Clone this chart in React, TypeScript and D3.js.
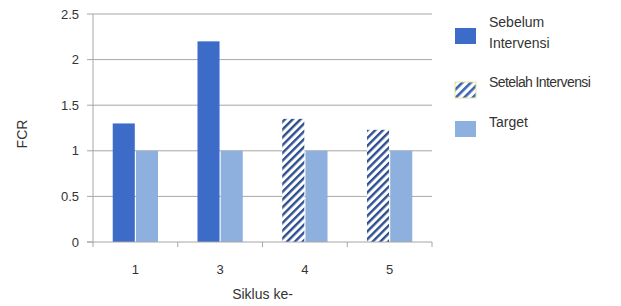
import * as d3 from 'd3';

const categories = ['1', '3', '4', '5'];
const sebelum: (number | null)[] = [1.3, 2.2, null, null];
const setelah: (number | null)[] = [null, null, 1.35, 1.23];
const target: number[] = [1, 1, 1, 1];
const yTicks = [0, 0.5, 1, 1.5, 2, 2.5];

const DARK = '#3c6cc8';
const LIGHT = '#8db0df';
const STRIPE = '#2e4f8f';
const GRID = '#a6a6a6';
const FONT = '"Liberation Sans", Arial, sans-serif';

export default function App() {
  const W = 621, H = 306;
  const m = { left: 93, right: 189, top: 14, bottom: 64 };
  const iw = W - m.left - m.right;
  const ih = H - m.top - m.bottom;

  const x = d3.scaleBand<string>().domain(categories).range([0, iw]);
  const inner = d3.scaleBand<string>().domain(['main', 'target'])
    .range([0, x.bandwidth()]).paddingOuter(0.85).paddingInner(0.05);
  const y = d3.scaleLinear().domain([0, 2.5]).range([ih, 0]);

  const bars: { key: string; cat: string; slot: string; v: number; fill: string }[] = [];
  categories.forEach((c, i) => {
    if (sebelum[i] != null) bars.push({ key: `a${i}`, cat: c, slot: 'main', v: sebelum[i]!, fill: DARK });
    if (setelah[i] != null) bars.push({ key: `b${i}`, cat: c, slot: 'main', v: setelah[i]!, fill: 'url(#hatch)' });
    bars.push({ key: `t${i}`, cat: c, slot: 'target', v: target[i], fill: LIGHT });
  });

  const legend = [
    { lines: ['Sebelum', 'Intervensi'], fill: DARK, sy: 28, ty: [27, 48] },
    { lines: ['Setelah Intervensi'], fill: 'url(#hatchL)', sy: 82, ty: [87] },
    { lines: ['Target'], fill: LIGHT, sy: 121, ty: [127] },
  ];

  return (
    <svg width={W} height={H} style={{ position: 'absolute', left: 0, top: 0, background: '#fff' }}
      fontFamily={FONT}>
      <defs>
        <pattern id="hatch" patternUnits="userSpaceOnUse" width="5.5" height="5.5" patternTransform="rotate(45)">
          <rect width="5.5" height="5.5" fill="#fff" />
          <rect width="2.4" height="5.5" fill={STRIPE} />
        </pattern>
        <pattern id="hatchL" patternUnits="userSpaceOnUse" width="6" height="6" patternTransform="rotate(45)">
          <rect width="6" height="6" fill="#fff" />
          <rect width="2.6" height="6" fill="#3a63b0" />
        </pattern>
      </defs>
      <g transform={`translate(${m.left},${m.top})`}>
        {yTicks.map((t) => (
          <g key={t}>
            {t > 0 && <line x1={0} x2={iw} y1={y(t)} y2={y(t)} stroke={GRID} strokeWidth={1} />}
            <line x1={-6} x2={0} y1={y(t)} y2={y(t)} stroke={GRID} />
            <text x={-14} y={y(t)} dy="0.35em" textAnchor="end" fontSize={13} fill="#333">{t}</text>
          </g>
        ))}
        {bars.map((b) => (
          <rect key={b.key} x={x(b.cat)! + inner(b.slot)!} width={inner.bandwidth()}
            y={y(b.v)} height={ih - y(b.v)} fill={b.fill} />
        ))}
        <line x1={0} x2={0} y1={0} y2={ih} stroke={GRID} />
        <line x1={-6} x2={iw} y1={ih} y2={ih} stroke={GRID} />
        {[...categories.map((c) => x(c)!), iw].map((v, i) => (
          <line key={i} x1={v} x2={v} y1={ih} y2={ih + 5} stroke={GRID} />
        ))}
        {categories.map((c) => (
          <text key={c} x={x(c)! + x.bandwidth() / 2} y={ih + 32} textAnchor="middle" fontSize={13} fill="#333">{c}</text>
        ))}
        <text x={iw / 2} y={ih + 57} textAnchor="middle" fontSize={14} fill="#333">Siklus ke-</text>
        <text transform={`translate(${-66},${ih / 2 + 6}) rotate(-90)`} textAnchor="middle" fontSize={14} fill="#333">FCR</text>
      </g>
      {legend.map((l, i) => (
        <g key={i}>
          <rect x={455} y={l.sy} width={21} height={16} fill={l.fill} stroke={i === 1 ? '#e9e3a0' : 'none'} />
          {l.lines.map((s, j) => (
            <text key={j} x={489} y={l.ty[j]} fontSize={14} fill="#333"
              letterSpacing={i === 1 ? -0.6 : 0}>{s}</text>
          ))}
        </g>
      ))}
    </svg>
  );
}
